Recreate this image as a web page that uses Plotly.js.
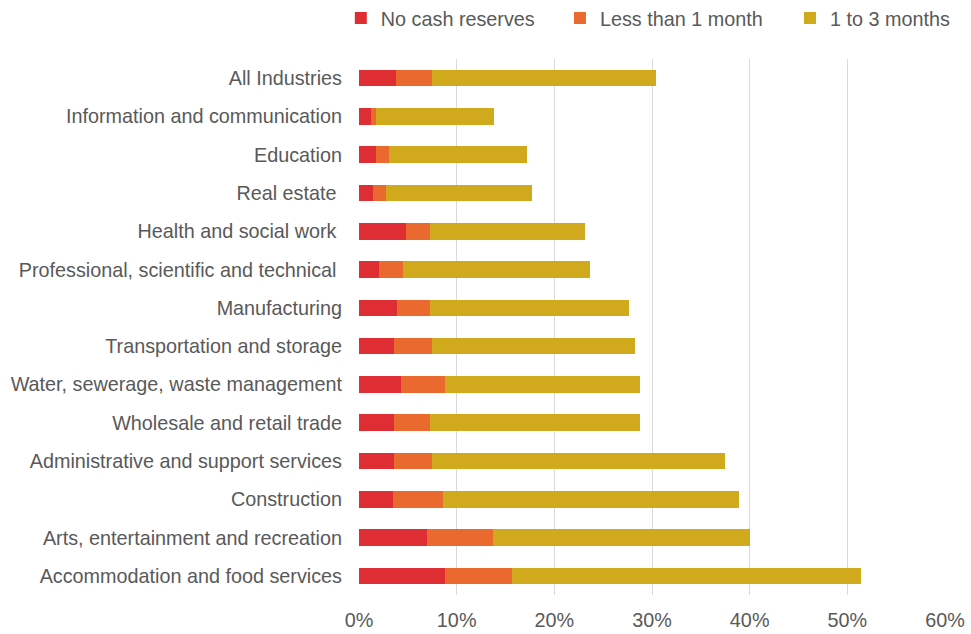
<!DOCTYPE html>
<html>
<head>
<meta charset="utf-8">
<script src="https://cdn.plot.ly/plotly-3.0.1.min.js"></script>
<style>html,body{margin:0;padding:0;background:#fff;}#chart{width:971px;height:634px;}</style>
</head>
<body>
<div id="chart"></div>
<script>
const categories = [
  "All Industries",
  "Information and communication",
  "Education",
  "Real estate\u00A0",
  "Health and social work\u00A0",
  "Professional, scientific and technical\u00A0",
  "Manufacturing",
  "Transportation and storage",
  "Water, sewerage, waste management",
  "Wholesale and retail trade",
  "Administrative and support services",
  "Construction",
  "Arts, entertainment and recreation",
  "Accommodation and food services"
];
const noCash = [3.75, 1.2, 1.7, 1.4, 4.8, 2.05, 3.9, 3.6, 4.3, 3.6, 3.6, 3.45, 7.0, 8.8];
const lessThan1 = [3.7, 0.5, 1.35, 1.35, 2.5, 2.5, 3.4, 3.85, 4.55, 3.7, 3.85, 5.2, 6.7, 6.85];
const oneTo3 = [22.95, 12.1, 14.15, 14.95, 15.8, 19.15, 20.3, 20.85, 19.95, 21.5, 30.05, 30.25, 26.35, 35.7];
const seriesNames = ["No cash reserves", "Less than 1 month", "1 to 3 months"];
const colors = ["#DF2E33", "#E9692F", "#D0A91C"];
const xTicks = [0, 10, 20, 30, 40, 50, 60];

const values = [noCash, lessThan1, oneTo3];
const legendIds = ["legend", "legend2", "legend3"];
const traces = values.map((v, i) => ({
  type: "bar",
  orientation: "h",
  name: seriesNames[i],
  y: categories,
  x: v,
  marker: {color: colors[i], line: {width: 0}},
  legend: legendIds[i],
  hoverinfo: "x+name"
}));

const font = {family: "Liberation Sans, Arial, sans-serif", size: 19.8, color: "#595959"};
const legendBase = {orientation: "h", xref: "container", yref: "container",
  yanchor: "middle", y: 0.9716, xanchor: "left",
  font: font, bgcolor: "rgba(0,0,0,0)", borderwidth: 0, itemwidth: 30};

const layout = {
  width: 971, height: 634,
  margin: {l: 359, r: 26, t: 59, b: 39},
  paper_bgcolor: "#fff", plot_bgcolor: "#fff",
  font: font,
  barmode: "stack",
  bargap: 0.57,
  showlegend: true,
  legend: Object.assign({}, legendBase, {x: 0.351}),
  legend2: Object.assign({}, legendBase, {x: 0.5767}),
  legend3: Object.assign({}, legendBase, {x: 0.8136}),
  xaxis: {
    range: [0, 60], tickvals: xTicks, ticktext: xTicks.map(t => t + "%"),
    showgrid: true, gridcolor: "#D9D9D9", gridwidth: 1, zeroline: false,
    showline: false, ticks: "", tickfont: font, ticklabelstandoff: 11,
    automargin: false, fixedrange: true
  },
  yaxis: {
    autorange: "reversed", type: "category", showgrid: false, zeroline: false,
    showline: false, ticks: "", tickfont: font, ticklabelstandoff: 16,
    automargin: false, fixedrange: true
  }
};

Plotly.newPlot("chart", traces, layout, {displayModeBar: false, staticPlot: true});
</script>
</body>
</html>
